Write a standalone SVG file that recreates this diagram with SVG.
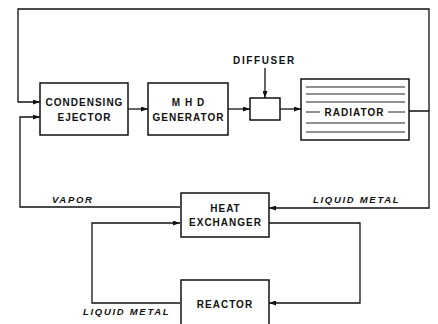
<svg xmlns="http://www.w3.org/2000/svg" width="438" height="324" viewBox="0 0 438 324">
<defs>
<marker id="ah" markerWidth="7" markerHeight="5" refX="7" refY="2.5" orient="auto" markerUnits="userSpaceOnUse">
<path d="M0,0 L7,2.5 L0,5 Z" fill="#111"/>
</marker>
<style>
.box{fill:#fff;stroke:#111;stroke-width:1.5}
.ln{fill:none;stroke:#111;stroke-width:1.3}
.rl{fill:none;stroke:#222;stroke-width:1}
.t{font-family:"Liberation Sans",Arial,sans-serif;font-weight:bold;font-size:10px;letter-spacing:1px;fill:#111;text-anchor:middle}
.it{font-family:"Liberation Sans",Arial,sans-serif;font-weight:bold;font-style:italic;font-size:9.5px;letter-spacing:1.7px;fill:#111}
</style>
</defs>
<rect width="438" height="324" fill="#fff"/>
<g id="connectors">
<path class="ln" d="M429,111 V9 H18 V102 H40" marker-end="url(#ah)"/>
<path class="ln" d="M409,111 H429 V208 H269" marker-end="url(#ah)"/>
<path class="ln" d="M180,207 H20 V117 H40" marker-end="url(#ah)"/>
<path class="ln" d="M128,109 H148" marker-end="url(#ah)"/>
<path class="ln" d="M228,109 H250" marker-end="url(#ah)"/>
<path class="ln" d="M280,109 H301" marker-end="url(#ah)"/>
<path class="ln" d="M265,68 V98" marker-end="url(#ah)"/>
<path class="ln" d="M269,223 H360 V303 H269" marker-end="url(#ah)"/>
<path class="ln" d="M180,303 H92 V223 H180" marker-end="url(#ah)"/>
<text class="it" x="52" y="203">VAPOR</text>
<text class="it" x="313" y="203">LIQUID METAL</text>
<text class="it" x="83" y="315">LIQUID METAL</text>
</g>
<g id="ejector">
<rect class="box" x="40" y="83" width="88" height="52"/>
<text class="t" x="84.5" y="106">CONDENSING</text>
<text class="t" x="84.5" y="121">EJECTOR</text>
</g>
<g id="mhd">
<rect class="box" x="148" y="83" width="80" height="52"/>
<text class="t" x="188.5" y="106">M H D</text>
<text class="t" x="188.5" y="121">GENERATOR</text>
</g>
<g id="diffuser">
<rect class="box" x="250" y="98" width="30" height="22"/>
<text class="t" x="264.5" y="64" style="letter-spacing:1.6px">DIFFUSER</text>
</g>
<g id="radiator">
<rect class="box" x="301" y="79" width="108" height="61"/>
<path class="rl" d="M306,87 H405 M306,94 H405 M306,102 H405 M306,112 H320 M388,112 H405 M306,123 H405 M306,132 H405"/>
<text class="t" x="354.5" y="115.5">RADIATOR</text>
</g>
<g id="heat-exchanger">
<rect class="box" x="181" y="193" width="88" height="44"/>
<text class="t" x="225.5" y="212">HEAT</text>
<text class="t" x="225.5" y="226">EXCHANGER</text>
</g>
<g id="reactor">
<rect class="box" x="181" y="280" width="88" height="52"/>
<text class="t" x="225" y="307.5">REACTOR</text>
</g>
</svg>
